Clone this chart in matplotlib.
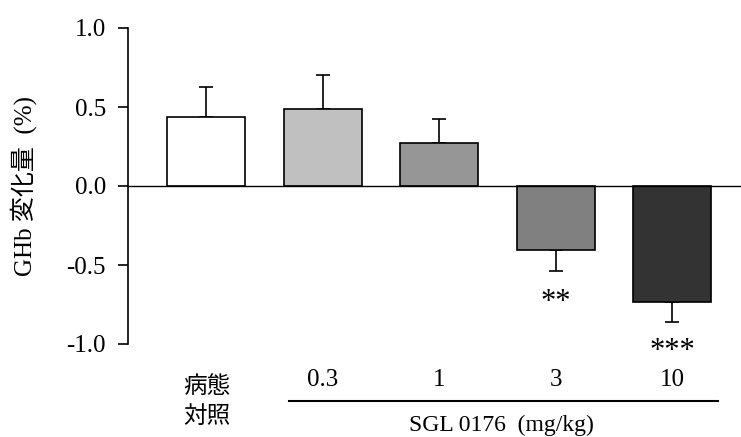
import matplotlib
matplotlib.use("Agg")
import matplotlib.pyplot as plt

plt.rcParams['font.family'] = ['Liberation Serif', 'Noto Sans CJK JP']

# data
groups = ['病態\n対照', '0.3', '1', '3', '10']
means = [0.437, 0.49, 0.274, -0.405, -0.732]
sems = [0.19, 0.21, 0.152, 0.135, 0.127]
bar_colors = ['#ffffff', '#c0c0c0', '#969696', '#808080', '#333333']
stars = ['', '', '', '**', '***']
star_y = [0, 0, 0, -0.74, -1.045]

fig = plt.figure(figsize=(7.41, 4.37), dpi=100)
ax = fig.add_axes([128 / 741, 1 - 344 / 437, 1 - 128 / 741, 316 / 437])

x = list(range(len(means)))
ax.bar(x, means, width=0.67, color=bar_colors, edgecolor='black', linewidth=1.2, zorder=2)
for i in x:
    if means[i] >= 0:
        yerr = [[0], [sems[i]]]
    else:
        yerr = [[sems[i]], [0]]
    ax.errorbar(i, means[i], yerr=yerr, fmt='none', ecolor='black',
                elinewidth=1.2, capsize=5, capthick=1.2, zorder=1)

ax.axhline(0, color='black', linewidth=1.0, zorder=3)

ax.set_xlim(-0.674, 4.59)
ax.set_ylim(-1.0, 1.0)
ax.set_yticks([-1.0, -0.5, 0.0, 0.5, 1.0])
ax.set_yticklabels(['-1.0', '-0.5', '0.0', '0.5', '1.0'])
ax.set_xticks([])
for s in ['top', 'right', 'bottom']:
    ax.spines[s].set_visible(False)
ax.spines['left'].set_linewidth(1.2)
ax.tick_params(axis='y', direction='out', length=7, width=1.2, labelsize=18, pad=9)

fs = 18
# group labels under the axis
ax.text(0, -1.27, '病態', ha='center', va='center', fontsize=17, clip_on=False)
ax.text(0, -1.46, '対照', ha='center', va='center', fontsize=17, clip_on=False)
for i in range(1, len(groups)):
    ax.text(i, -1.228, groups[i], ha='center', va='center', fontsize=fs, clip_on=False)
ax.plot([0.708, 4.39], [-1.359, -1.359], color='black', linewidth=1.5, clip_on=False)
ax.text(2.536, -1.515, 'SGL 0176  (mg/kg)', ha='center', va='center', fontsize=17, clip_on=False)

for i in x:
    if stars[i]:
        ax.text(i, star_y[i], stars[i], ha='center', va='center', fontsize=22, clip_on=False)

fig.text(24 / 741, 1 - 186 / 437, 'GHb 変化量  (%)', rotation=90, ha='center', va='center',
         fontsize=18)

fig.savefig('out.png', dpi=100)
